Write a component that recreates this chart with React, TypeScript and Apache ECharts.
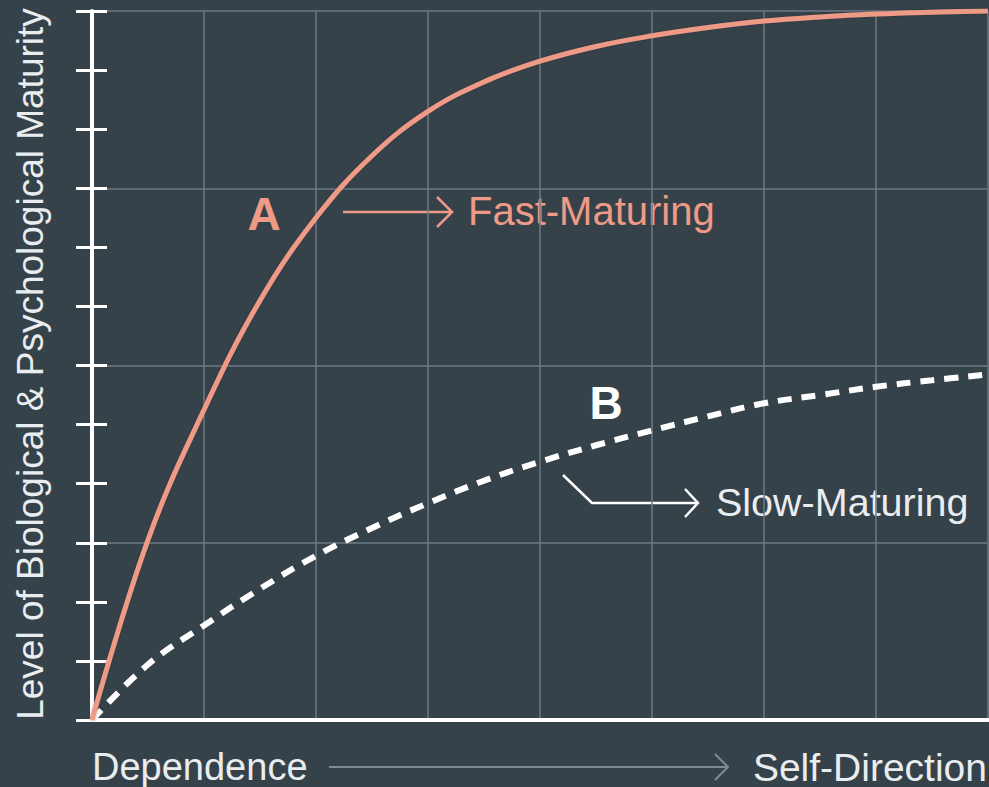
import React, { useEffect, useRef } from "react";
import * as echarts from "echarts";

// Horizontal position along the Dependence → Self-Direction continuum (0..8 grid units)
const xPositions = [0, 0.5, 1, 1.5, 2, 2.5, 3, 3.5, 4, 4.5, 5, 5.5, 6, 6.5, 7, 7.5, 8];
// Curve A – fast-maturing (level of maturity, 0..12)
const fastMaturing = [0, 3.05, 5.25, 7.1, 8.5, 9.55, 10.3, 10.8, 11.15, 11.4, 11.58, 11.72, 11.83, 11.9, 11.95, 11.98, 12.0];
// Curve B – slow-maturing
const slowMaturing = [0, 0.94, 1.6, 2.22, 2.78, 3.25, 3.67, 4.05, 4.37, 4.65, 4.9, 5.14, 5.36, 5.5, 5.64, 5.75, 5.85];

const xMax = 8;
const yMax = 12;
const yTickStep = 1;
const yGridStep = 3;

const yAxisTitle = "Level of Biological & Psychological Maturity";
const xStartLabel = "Dependence";
const xEndLabel = "Self-Direction";
const curveLetters = ["A", "B"];
const curveNames = ["Fast-Maturing", "Slow-Maturing"];

const BG = "#36424a";
const GRID = "#6f7b84";
const SALMON = "#ef9a87";
const WHITE = "#ffffff";
const TEXT = "#e9edf0";
const FONT = '"Liberation Sans", Arial, Helvetica, sans-serif';

export default function App() {
  const ref = useRef<HTMLDivElement>(null);

  useEffect(() => {
    if (!ref.current) return;
    document.body.style.margin = "0";
    document.body.style.background = BG;
    const chart = echarts.init(ref.current, null, { renderer: "svg" });

    const seriesA = xPositions.map((x, i) => [x, fastMaturing[i]]);
    const seriesB = xPositions.map((x, i) => [x, slowMaturing[i]]);

    const baseY = {
      type: "value" as const,
      min: 0,
      max: yMax,
      position: "left" as const,
      axisLabel: { show: false },
    };

    chart.setOption({
      animation: false,
      backgroundColor: BG,
      grid: { left: 92, right: 1, top: 11, bottom: 67, containLabel: false },
      xAxis: {
        type: "value",
        min: 0,
        max: xMax,
        interval: 1,
        axisLine: { show: true, onZero: false, lineStyle: { color: WHITE, width: 4 } },
        axisTick: { show: false },
        axisLabel: { show: false },
        splitLine: { show: true, lineStyle: { color: GRID, width: 1.5 } },
      },
      yAxis: [
        {
          ...baseY,
          interval: yTickStep,
          axisLine: { show: true, onZero: false, lineStyle: { color: WHITE, width: 4 } },
          axisTick: { show: true, inside: false, length: 16, lineStyle: { color: WHITE, width: 3 } },
          splitLine: { show: false },
        },
        {
          ...baseY,
          interval: yTickStep,
          axisLine: { show: false },
          axisTick: { show: true, inside: true, length: 15, lineStyle: { color: WHITE, width: 3 } },
          splitLine: { show: false },
        },
        {
          ...baseY,
          interval: yGridStep,
          axisLine: { show: false },
          axisTick: { show: false },
          splitLine: { show: true, lineStyle: { color: GRID, width: 1.5 } },
        },
      ],
      series: [
        {
          name: curveNames[1],
          type: "line",
          data: seriesB,
          smooth: 0.4,
          showSymbol: false,
          lineStyle: { color: WHITE, width: 6, type: [14, 10], cap: "butt" },
          z: 3,
        },
        {
          name: curveNames[0],
          type: "line",
          data: seriesA,
          smooth: 0.4,
          showSymbol: false,
          lineStyle: {
            color: SALMON,
            width: 5,
            shadowColor: "rgba(0,0,0,0.35)",
            shadowBlur: 2,
          },
          z: 4,
        },
      ],
      graphic: [
        {
          type: "text",
          x: 30,
          y: 364,
          rotation: Math.PI / 2,
          style: {
            text: yAxisTitle,
            fill: TEXT,
            font: `37px ${FONT}`,
            align: "center",
            verticalAlign: "middle",
          },
        },
        {
          type: "text",
          x: 92,
          y: 767,
          style: { text: xStartLabel, fill: TEXT, font: `38px ${FONT}`, align: "left", verticalAlign: "middle" },
        },
        {
          type: "text",
          x: 987,
          y: 767,
          style: { text: xEndLabel, fill: TEXT, font: `39px ${FONT}`, align: "right", verticalAlign: "middle" },
        },
        {
          type: "line",
          shape: { x1: 329, y1: 767, x2: 728, y2: 767 },
          style: { stroke: "#7f8b93", lineWidth: 2 },
        },
        {
          type: "polyline",
          shape: { points: [[715, 754], [728, 767], [715, 780]] },
          style: { stroke: "#7f8b93", lineWidth: 2, fill: null },
        },
        // Curve A annotation
        {
          type: "text",
          x: 264,
          y: 214,
          style: { text: curveLetters[0], fill: SALMON, font: `bold 46px ${FONT}`, align: "center", verticalAlign: "middle" },
        },
        {
          type: "line",
          shape: { x1: 343, y1: 212, x2: 452, y2: 212 },
          style: { stroke: SALMON, lineWidth: 2.5 },
        },
        {
          type: "polyline",
          shape: { points: [[437, 197], [452, 212], [437, 227]] },
          style: { stroke: SALMON, lineWidth: 2.5, fill: null },
        },
        {
          type: "text",
          x: 468,
          y: 211,
          style: { text: curveNames[0], fill: SALMON, font: `40px ${FONT}`, align: "left", verticalAlign: "middle" },
        },
        // Curve B annotation
        {
          type: "text",
          x: 606,
          y: 403,
          style: { text: curveLetters[1], fill: WHITE, font: `bold 46px ${FONT}`, align: "center", verticalAlign: "middle" },
        },
        {
          type: "polyline",
          shape: { points: [[563, 475], [592, 503], [698, 503]] },
          style: { stroke: WHITE, lineWidth: 2.5, fill: null },
        },
        {
          type: "polyline",
          shape: { points: [[685, 489], [698, 503], [685, 517]] },
          style: { stroke: WHITE, lineWidth: 2.5, fill: null },
        },
        {
          type: "text",
          x: 716,
          y: 502,
          style: { text: curveNames[1], fill: TEXT, font: `39.5px ${FONT}`, align: "left", verticalAlign: "middle" },
        },
      ],
    });

    return () => chart.dispose();
  }, []);

  return (
    <div
      ref={ref}
      style={{ position: "absolute", left: 0, top: 0, width: 989, height: 787, background: BG }}
    />
  );
}
